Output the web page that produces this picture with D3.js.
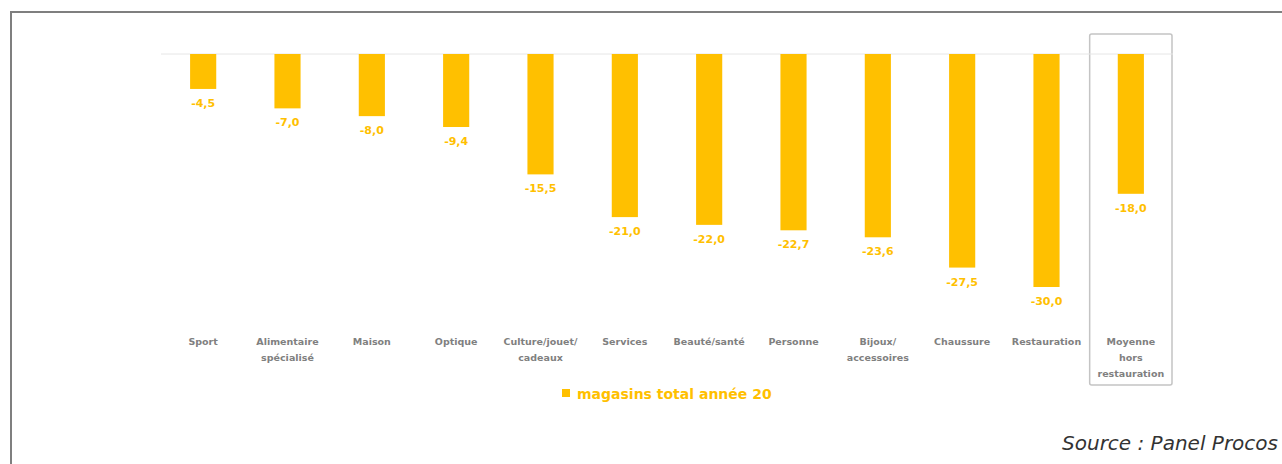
<!DOCTYPE html>
<html>
<head>
<meta charset="utf-8">
<script src="https://cdn.jsdelivr.net/npm/d3@7/dist/d3.min.js"></script>
<style>
  html, body { margin: 0; padding: 0; background: #fff; }
  svg { display: block; }
</style>
</head>
<body>
<svg id="chart" width="1282" height="464"></svg>
<script>
// Evolution du nombre de magasins par secteur (%)
const categories = [
  ["Sport"],
  ["Alimentaire", "spécialisé"],
  ["Maison"],
  ["Optique"],
  ["Culture/jouet/", "cadeaux"],
  ["Services"],
  ["Beauté/santé"],
  ["Personne"],
  ["Bijoux/", "accessoires"],
  ["Chaussure"],
  ["Restauration"],
  ["Moyenne", "hors", "restauration"]
];
const values = [-4.5, -7.0, -8.0, -9.4, -15.5, -21.0, -22.0, -22.7, -23.6, -27.5, -30.0, -18.0];
const seriesName = "magasins total année 20";
const sourceText = "Source : Panel Procos";

const svg = d3.select("#chart");
const W = 1282, H = 464;
const gold = "#FFC000";
const labelFont = "'DejaVu Sans', sans-serif";

// outer frame (runs off the right and bottom edges)
svg.append("rect")
  .attr("x", 11).attr("y", 12)
  .attr("width", W + 10).attr("height", H + 10)
  .attr("fill", "none").attr("stroke", "#7f7f7f").attr("stroke-width", 2);

const x = d3.scaleBand()
  .domain(d3.range(categories.length))
  .range([161, 1173])
  .paddingInner(0.69)
  .paddingOuter(0.345);

const y = d3.scaleLinear()
  .domain([0, -30])
  .range([54, 287]);

// highlight frame around the average column
const last = categories.length - 1;
svg.append("rect")
  .attr("x", x(last) - x.step() * 0.345 + 1).attr("y", 34)
  .attr("width", x.step() - 2).attr("height", 351)
  .attr("rx", 2)
  .attr("fill", "none").attr("stroke", "#c4c4c4").attr("stroke-width", 1.5);

// zero line
svg.append("line")
  .attr("x1", 161).attr("x2", 1173)
  .attr("y1", y(0)).attr("y2", y(0))
  .attr("stroke", "#e6e6e6").attr("stroke-width", 1);

// bars
svg.append("g").selectAll("rect")
  .data(values)
  .join("rect")
  .attr("x", (d, i) => x(i))
  .attr("y", y(0))
  .attr("width", x.bandwidth())
  .attr("height", d => y(d) - y(0))
  .attr("fill", gold);

// value labels
svg.append("g").selectAll("text")
  .data(values)
  .join("text")
  .attr("x", (d, i) => x(i) + x.bandwidth() / 2)
  .attr("y", d => y(d) + 18)
  .attr("text-anchor", "middle")
  .attr("font-family", labelFont)
  .attr("font-size", 11)
  .attr("font-weight", "bold")
  .attr("fill", gold)
  .text(d => d.toFixed(1).replace(".", ","));

// category labels
const cat = svg.append("g").selectAll("text")
  .data(categories)
  .join("text")
  .attr("x", (d, i) => x(i) + x.bandwidth() / 2)
  .attr("y", 345)
  .attr("text-anchor", "middle")
  .attr("font-family", labelFont)
  .attr("font-size", 9.5)
  .attr("font-weight", "bold")
  .attr("fill", "#808080");
cat.selectAll("tspan")
  .data(d => d)
  .join("tspan")
  .attr("x", function () { return d3.select(this.parentNode).attr("x"); })
  .attr("dy", (d, i) => i === 0 ? 0 : 16)
  .text(d => d);

// legend
svg.append("rect")
  .attr("x", 562).attr("y", 389).attr("width", 8).attr("height", 8)
  .attr("fill", gold);
svg.append("text")
  .attr("x", 577).attr("y", 399)
  .attr("font-family", labelFont)
  .attr("font-size", 14)
  .attr("font-weight", "bold")
  .attr("fill", gold)
  .text(seriesName);

// source
svg.append("text")
  .attr("x", 1278).attr("y", 450)
  .attr("text-anchor", "end")
  .attr("font-family", labelFont)
  .attr("font-style", "italic")
  .attr("font-size", 20)
  .attr("fill", "#333")
  .text(sourceText);
</script>
</body>
</html>
